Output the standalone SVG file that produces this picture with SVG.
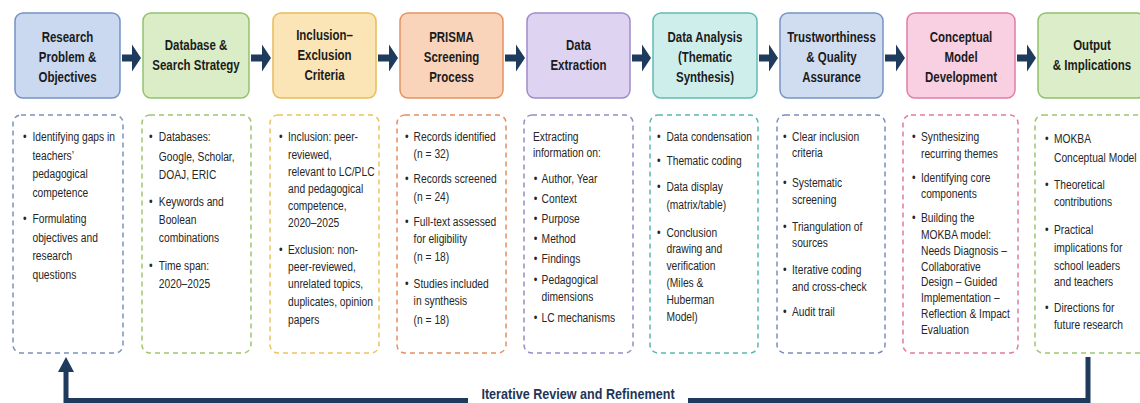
<svg xmlns="http://www.w3.org/2000/svg" width="1140" height="403" viewBox="0 0 1140 403">
<style>
.hb{stroke-width:1.5}
.db{fill:#fff;stroke-width:1.5;stroke-dasharray:5 4}
.h{font-family:"Liberation Sans",Arial,sans-serif;font-weight:bold;font-size:14px;fill:#1b1b1b;text-anchor:middle}
.b{font-family:"Liberation Sans",Arial,sans-serif;font-size:12.5px;fill:#262626}
.lbl{font-family:"Liberation Sans",Arial,sans-serif;font-weight:bold;font-size:15px;fill:#1e3557;text-anchor:middle}
.ar{fill:#1e3a5c}
.loop{fill:none;stroke:#1e3a5c;stroke-width:5}
</style>
<rect width="1140" height="403" fill="#fff"/>

<g id="connectors">
<path class="ar" d="M122,54.5h10v-10l9,13.5l-9,13.5v-10h-10z"/>
<path class="ar" d="M251,54.5h11v-10l9,13.5l-9,13.5v-10h-11z"/>
<path class="ar" d="M378,54.5h11v-10l9,13.5l-9,13.5v-10h-11z"/>
<path class="ar" d="M505,54.5h11v-10l9,13.5l-9,13.5v-10h-11z"/>
<path class="ar" d="M632,54.5h10v-10l9,13.5l-9,13.5v-10h-10z"/>
<path class="ar" d="M759,54.5h10v-10l9,13.5l-9,13.5v-10h-10z"/>
<path class="ar" d="M885,54.5h11v-10l9,13.5l-9,13.5v-10h-11z"/>
<path class="ar" d="M1017,54.5h10v-10l9,13.5l-9,13.5v-10h-10z"/>
<path class="loop" d="M1088,357V400.5H688M468,400.5H66V371"/>
<path class="ar" d="M66,357l8,15h-16z"/>
<g transform="translate(578,0) scale(0.84,1)"><text class="lbl" x="0" y="399.5">Iterative Review and Refinement</text></g>
</g>

<g id="n1">
<rect class="hb" x="15" y="13" width="105" height="85" rx="8" fill="#cad9f0" stroke="#7393c4"/>
<g transform="translate(67.5,0) scale(0.82,1)"><text class="h" x="0" y="42">Research</text><text class="h" x="0" y="62">Problem &amp;</text><text class="h" x="0" y="82">Objectives</text></g>
<rect class="db" x="13" y="115" width="110" height="238" rx="8" stroke="#7a93bd"/>
<g transform="translate(23,0) scale(0.82,1)">
<text class="b" x="0" y="141.5">•</text><text class="b" x="11.5" y="141.5">Identifying gaps in</text>
<text class="b" x="11.5" y="160.5">teachers’</text>
<text class="b" x="11.5" y="178.5">pedagogical</text>
<text class="b" x="11.5" y="197.5">competence</text>
<text class="b" x="0" y="223.5">•</text><text class="b" x="11.5" y="223.5">Formulating</text>
<text class="b" x="11.5" y="242.5">objectives and</text>
<text class="b" x="11.5" y="260.5">research</text>
<text class="b" x="11.5" y="279.5">questions</text>
</g>
</g>

<g id="n2">
<rect class="hb" x="143" y="13" width="106" height="85" rx="8" fill="#daedc6" stroke="#93c26e"/>
<g transform="translate(196,0) scale(0.82,1)"><text class="h" x="0" y="50">Database &amp;</text><text class="h" x="0" y="70">Search Strategy</text></g>
<rect class="db" x="142" y="115" width="109" height="238" rx="8" stroke="#9cc66f"/>
<g transform="translate(149,0) scale(0.82,1)">
<text class="b" x="0" y="141.5">•</text><text class="b" x="12" y="141.5">Databases:</text>
<text class="b" x="12" y="161.5">Google, Scholar,</text>
<text class="b" x="12" y="179.5">DOAJ, ERIC</text>
<text class="b" x="0" y="206.5">•</text><text class="b" x="12" y="206.5">Keywords and</text>
<text class="b" x="12" y="224.5">Boolean</text>
<text class="b" x="12" y="242.5">combinations</text>
<text class="b" x="0" y="270.5">•</text><text class="b" x="12" y="270.5">Time span:</text>
<text class="b" x="12" y="288.5">2020–2025</text>
</g>
</g>

<g id="n3">
<rect class="hb" x="273" y="13" width="103" height="85" rx="8" fill="#fbe5b6" stroke="#e9bc55"/>
<g transform="translate(324.5,0) scale(0.82,1)"><text class="h" x="0" y="40">Inclusion–</text><text class="h" x="0" y="60">Exclusion</text><text class="h" x="0" y="80">Criteria</text></g>
<rect class="db" x="270" y="115" width="109" height="238" rx="8" stroke="#ecc35e"/>
<g transform="translate(279,0) scale(0.82,1)">
<text class="b" x="0" y="141.5">•</text><text class="b" x="11" y="141.5">Inclusion: peer-</text>
<text class="b" x="11" y="159.5">reviewed,</text>
<text class="b" x="11" y="176.5">relevant to LC/PLC</text>
<text class="b" x="11" y="193.5">and pedagogical</text>
<text class="b" x="11" y="210.5">competence,</text>
<text class="b" x="11" y="227.5">2020–2025</text>
<text class="b" x="0" y="254.5">•</text><text class="b" x="11" y="254.5">Exclusion: non-</text>
<text class="b" x="11" y="271.5">peer-reviewed,</text>
<text class="b" x="11" y="288.5">unrelated topics,</text>
<text class="b" x="11" y="306.5">duplicates, opinion</text>
<text class="b" x="11" y="324.5">papers</text>
</g>
</g>

<g id="n4">
<rect class="hb" x="400" y="13" width="103" height="85" rx="8" fill="#f9d4bb" stroke="#e6915e"/>
<g transform="translate(451.5,0) scale(0.82,1)"><text class="h" x="0" y="42">PRISMA</text><text class="h" x="0" y="62">Screening</text><text class="h" x="0" y="82">Process</text></g>
<rect class="db" x="397" y="115" width="109" height="238" rx="8" stroke="#e58f5f"/>
<g transform="translate(405,0) scale(0.82,1)">
<text class="b" x="0" y="141.5">•</text><text class="b" x="10.5" y="141.5">Records identified</text>
<text class="b" x="10.5" y="158.5">(n = 32)</text>
<text class="b" x="0" y="183.5">•</text><text class="b" x="10.5" y="183.5">Records screened</text>
<text class="b" x="10.5" y="201.5">(n = 24)</text>
<text class="b" x="0" y="226.5">•</text><text class="b" x="10.5" y="226.5">Full-text assessed</text>
<text class="b" x="10.5" y="243.5">for eligibility</text>
<text class="b" x="10.5" y="261.5">(n = 18)</text>
<text class="b" x="0" y="288.5">•</text><text class="b" x="10.5" y="288.5">Studies included</text>
<text class="b" x="10.5" y="305.5">in synthesis</text>
<text class="b" x="10.5" y="324.5">(n = 18)</text>
</g>
</g>

<g id="n5">
<rect class="hb" x="527" y="13" width="103" height="85" rx="8" fill="#ded4f1" stroke="#a08acb"/>
<g transform="translate(578.5,0) scale(0.82,1)"><text class="h" x="0" y="50">Data</text><text class="h" x="0" y="70">Extraction</text></g>
<rect class="db" x="524" y="115" width="109" height="238" rx="8" stroke="#9b88c8"/>
<g transform="translate(533,0) scale(0.82,1)">
<text class="b" x="0" y="141.5">Extracting</text>
<text class="b" x="0" y="157.5">information on:</text>
<text class="b" x="1" y="183.5">•</text><text class="b" x="10.5" y="183.5">Author, Year</text>
<text class="b" x="1" y="203.5">•</text><text class="b" x="10.5" y="203.5">Context</text>
<text class="b" x="1" y="223.5">•</text><text class="b" x="10.5" y="223.5">Purpose</text>
<text class="b" x="1" y="243.5">•</text><text class="b" x="10.5" y="243.5">Method</text>
<text class="b" x="1" y="263.5">•</text><text class="b" x="10.5" y="263.5">Findings</text>
<text class="b" x="1" y="284.5">•</text><text class="b" x="10.5" y="284.5">Pedagogical</text>
<text class="b" x="10.5" y="301.5">dimensions</text>
<text class="b" x="1" y="322.5">•</text><text class="b" x="10.5" y="322.5">LC mechanisms</text>
</g>
</g>

<g id="n6">
<rect class="hb" x="653" y="13" width="104" height="85" rx="8" fill="#ceeeec" stroke="#62bab6"/>
<g transform="translate(705,0) scale(0.82,1)"><text class="h" x="0" y="42">Data Analysis</text><text class="h" x="0" y="62">(Thematic</text><text class="h" x="0" y="82">Synthesis)</text></g>
<rect class="db" x="650" y="115" width="108" height="238" rx="8" stroke="#5ab7b5"/>
<g transform="translate(657,0) scale(0.82,1)">
<text class="b" x="0" y="141.5">•</text><text class="b" x="11.5" y="141.5">Data condensation</text>
<text class="b" x="0" y="165.5">•</text><text class="b" x="11.5" y="165.5">Thematic coding</text>
<text class="b" x="0" y="191.5">•</text><text class="b" x="11.5" y="191.5">Data display</text>
<text class="b" x="11.5" y="209.5">(matrix/table)</text>
<text class="b" x="0" y="237.5">•</text><text class="b" x="11.5" y="237.5">Conclusion</text>
<text class="b" x="11.5" y="253.5">drawing and</text>
<text class="b" x="11.5" y="270.5">verification</text>
<text class="b" x="11.5" y="287.5">(Miles &amp;</text>
<text class="b" x="11.5" y="304.5">Huberman</text>
<text class="b" x="11.5" y="321.5">Model)</text>
</g>
</g>

<g id="n7">
<rect class="hb" x="780" y="13" width="103" height="85" rx="8" fill="#d0ddf1" stroke="#7494c3"/>
<g transform="translate(831.5,0) scale(0.82,1)"><text class="h" x="0" y="42">Trustworthiness</text><text class="h" x="0" y="62">&amp; Quality</text><text class="h" x="0" y="82">Assurance</text></g>
<rect class="db" x="777" y="115" width="108" height="238" rx="8" stroke="#7890bd"/>
<g transform="translate(783,0) scale(0.82,1)">
<text class="b" x="0" y="141.5">•</text><text class="b" x="11" y="141.5">Clear inclusion</text>
<text class="b" x="11" y="157.5">criteria</text>
<text class="b" x="0" y="187.5">•</text><text class="b" x="11" y="187.5">Systematic</text>
<text class="b" x="11" y="204.5">screening</text>
<text class="b" x="0" y="231.5">•</text><text class="b" x="11" y="231.5">Triangulation of</text>
<text class="b" x="11" y="247.5">sources</text>
<text class="b" x="0" y="274.5">•</text><text class="b" x="11" y="274.5">Iterative coding</text>
<text class="b" x="11" y="291.5">and cross-check</text>
<text class="b" x="0" y="316.5">•</text><text class="b" x="11" y="316.5">Audit trail</text>
</g>
</g>

<g id="n8">
<rect class="hb" x="907" y="13" width="108" height="85" rx="8" fill="#f8d0e1" stroke="#e17ca8"/>
<g transform="translate(961,0) scale(0.82,1)"><text class="h" x="0" y="42">Conceptual</text><text class="h" x="0" y="62">Model</text><text class="h" x="0" y="82">Development</text></g>
<rect class="db" x="903" y="115" width="115" height="238" rx="8" stroke="#e07aa5"/>
<g transform="translate(912,0) scale(0.82,1)">
<text class="b" x="0" y="141.5">•</text><text class="b" x="11" y="141.5">Synthesizing</text>
<text class="b" x="11" y="158.5">recurring themes</text>
<text class="b" x="0" y="182.5">•</text><text class="b" x="11" y="182.5">Identifying core</text>
<text class="b" x="11" y="198.5">components</text>
<text class="b" x="0" y="222.5">•</text><text class="b" x="11" y="222.5">Building the</text>
<text class="b" x="11" y="239.5">MOKBA model:</text>
<text class="b" x="11" y="255.5">Needs Diagnosis –</text>
<text class="b" x="11" y="271.5">Collaborative</text>
<text class="b" x="11" y="286.5">Design – Guided</text>
<text class="b" x="11" y="302.5">Implementation –</text>
<text class="b" x="11" y="318.5">Reflection &amp; Impact</text>
<text class="b" x="11" y="334.5">Evaluation</text>
</g>
</g>

<g id="n9">
<rect class="hb" x="1038" y="13" width="107" height="85" rx="8" fill="#dcedc9" stroke="#90c16a"/>
<g transform="translate(1092,0) scale(0.82,1)"><text class="h" x="0" y="50">Output</text><text class="h" x="0" y="70">&amp; Implications</text></g>
<rect class="db" x="1035" y="115" width="112" height="238" rx="8" stroke="#9cc66f"/>
<g transform="translate(1045,0) scale(0.82,1)">
<text class="b" x="0" y="143.5">•</text><text class="b" x="11" y="143.5">MOKBA</text>
<text class="b" x="11" y="162.5">Conceptual Model</text>
<text class="b" x="0" y="189.5">•</text><text class="b" x="11" y="189.5">Theoretical</text>
<text class="b" x="11" y="206.5">contributions</text>
<text class="b" x="0" y="234.5">•</text><text class="b" x="11" y="234.5">Practical</text>
<text class="b" x="11" y="252.5">implications for</text>
<text class="b" x="11" y="270.5">school leaders</text>
<text class="b" x="11" y="286.5">and teachers</text>
<text class="b" x="0" y="312.5">•</text><text class="b" x="11" y="312.5">Directions for</text>
<text class="b" x="11" y="329.5">future research</text>
</g>
</g>
</svg>
